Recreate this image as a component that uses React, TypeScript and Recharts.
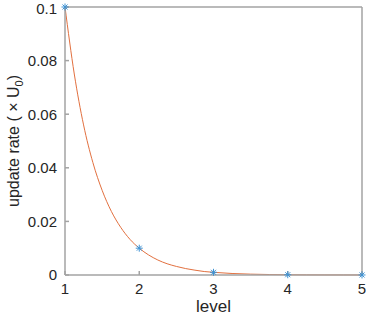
import { ComposedChart, Line, Scatter, XAxis, YAxis, Label } from 'recharts'

// sampled points (asterisks)
const levels = [1, 2, 3, 4, 5]
const rates = [0.1, 0.01, 0.001, 0.0001, 0.00001]

// fitted curve
const curveX = [1, 1.125, 1.25, 1.375, 1.5, 1.625, 1.75, 1.875, 2, 2.125, 2.25, 2.375, 2.5, 2.625, 2.75, 2.875, 3, 3.25, 3.5, 3.75, 4, 4.25, 4.5, 4.75, 5]
const curveY = [0.1, 0.075, 0.056, 0.042, 0.0316, 0.0237, 0.0178, 0.0133, 0.01, 0.0075, 0.0056, 0.0042, 0.0032, 0.0024, 0.0018, 0.0013, 0.001, 0.00056, 0.00032, 0.00018, 0.0001, 0.000056, 0.000032, 0.000018, 0.00001]

const xTicks = [1, 2, 3, 4, 5]
const yTicks = [0, 0.02, 0.04, 0.06, 0.08, 0.1]

const points = levels.map((x, i) => ({ x, y: rates[i] }))
const curve = curveX.map((x, i) => ({ x, y: curveY[i] }))

const FONT = '"Liberation Sans", Arial, sans-serif'
const AXIS = '#a3a3a3'
const TEXT = '#262626'

const tickStyle = { fontSize: 15, fontFamily: FONT, fill: TEXT }

const Asterisk = (props: any) => {
  const { cx, cy } = props
  const r = 3.5
  const d = 2.5
  return (
    <g stroke="#3f93d4" strokeWidth={1}>
      <line x1={cx - r} y1={cy} x2={cx + r} y2={cy} />
      <line x1={cx} y1={cy - r} x2={cx} y2={cy + r} />
      <line x1={cx - d} y1={cy - d} x2={cx + d} y2={cy + d} />
      <line x1={cx - d} y1={cy + d} x2={cx + d} y2={cy - d} />
    </g>
  )
}

const YTitle = (props: any) => {
  const vb = props.viewBox || {}
  const cy = (vb.y ?? 7) + (vb.height ?? 268) / 2
  return (
    <text
      transform={`translate(19, ${cy}) rotate(-90)`}
      textAnchor="middle"
      fontFamily={FONT}
      fontSize={16}
      fill={TEXT}
    >
      update rate ( × U
      <tspan fontSize={11} dy={4}>0</tspan>
      <tspan dy={-4}>)</tspan>
    </text>
  )
}

export default function App() {
  return (
    <div style={{ position: 'absolute', left: 0, top: 0 }}>
      <ComposedChart width={366} height={316} margin={{ top: 6, right: 3, bottom: 0, left: 0 }}>
        <XAxis
          dataKey="x"
          type="number"
          domain={[1, 5]}
          ticks={xTicks}
          height={41}
          stroke={AXIS}
          strokeWidth={1.5}
          tickSize={-4}
          tickMargin={12}
          tick={tickStyle}
        >
          <Label value="level" position="insideBottom" offset={4} style={{ fontSize: 17, fontFamily: FONT, fill: TEXT }} />
        </XAxis>
        <XAxis
          xAxisId="top"
          orientation="top"
          dataKey="x"
          type="number"
          domain={[1, 5]}
          ticks={xTicks}
          height={1}
          stroke={AXIS}
          strokeWidth={1.5}
          tickSize={-4}
          tick={false}
        />
        <YAxis
          type="number"
          domain={[0, 0.1]}
          ticks={yTicks}
          width={65}
          stroke={AXIS}
          strokeWidth={1.5}
          tickSize={-4}
          tickMargin={12}
          tick={tickStyle}
        >
          <Label content={YTitle} />
        </YAxis>
        <YAxis
          yAxisId="right"
          orientation="right"
          type="number"
          domain={[0, 0.1]}
          ticks={yTicks}
          width={1}
          stroke={AXIS}
          strokeWidth={1.5}
          tickSize={-4}
          tick={false}
        />
        {/* invisible series so the box axes get drawn */}
        <Line
          data={points}
          dataKey="y"
          xAxisId="top"
          yAxisId="right"
          stroke="none"
          dot={false}
          activeDot={false}
          isAnimationActive={false}
        />
        <Line
          data={curve}
          dataKey="y"
          type="monotone"
          stroke="#e2703f"
          strokeWidth={1}
          dot={false}
          activeDot={false}
          isAnimationActive={false}
        />
        <Scatter data={points} dataKey="y" shape={Asterisk} isAnimationActive={false} />
      </ComposedChart>
    </div>
  )
}
